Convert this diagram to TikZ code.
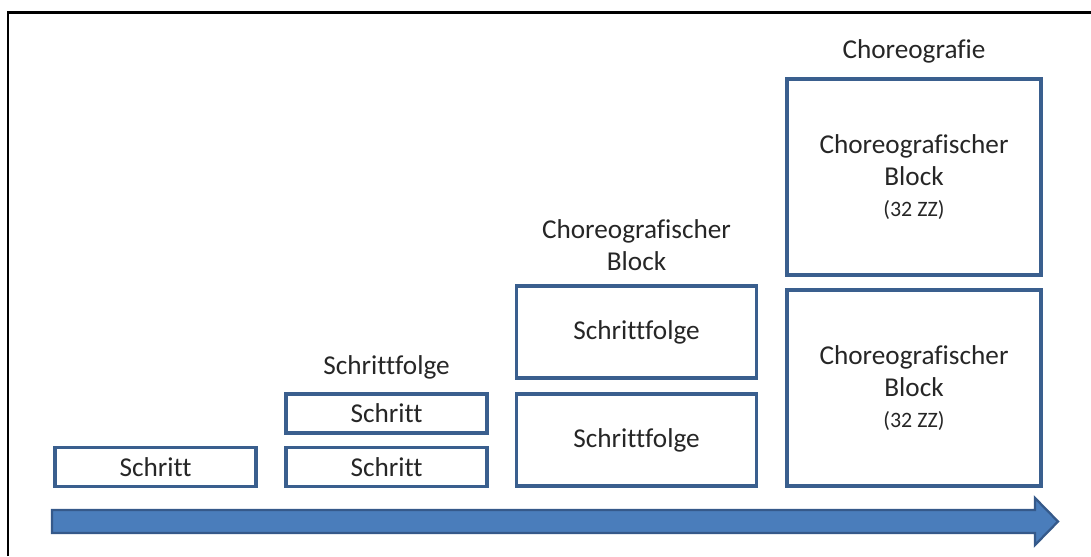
\documentclass[tikz,border=0pt]{standalone}
\usepackage{xcolor}
\usepackage{fontspec}
\setmainfont{Carlito}[Ligatures=NoCommon]
\usepackage{tikz}
\usetikzlibrary{positioning}
\definecolor{ink}{HTML}{262626}
\definecolor{frameblue}{HTML}{3A5F8E}
\definecolor{arrowblue}{HTML}{4A7DBB}
\definecolor{arrowedge}{HTML}{35598A}
\newcommand{\countfont}{\fontsize{12.5}{14}\selectfont}

\begin{document}
\begin{tikzpicture}[
  x=0.02cm, y=-0.02cm,
  every node/.style={font=\fontsize{15.5}{18.5}\selectfont, text=ink},
  stepbox/.style={rectangle, draw=frameblue, line width=2.2pt, fill=white, minimum width=4.02cm, minimum height=0.78cm, inner sep=0pt, align=center},
  seqbox/.style={stepbox, minimum width=4.8cm, minimum height=1.84cm},
  blockbox/.style={stepbox, minimum width=5.08cm, minimum height=3.92cm},
  caption/.style={align=center, inner sep=0pt},
  timeline/.style={fill=arrowblue, draw=arrowedge, line width=1.3pt, line join=miter}
]
\useasboundingbox (0,0) rectangle (1091,556);
\draw[line width=1.7pt] (8,556) -- (8,12) -- (1091,12);

% single step
\node[stepbox] (step) at (155.5,467) {Schritt};

% step sequence
\node[stepbox]                    (sfA) at (386.5,467) {Schritt};
\node[stepbox, above=0.22cm of sfA] (sfB) {Schritt};
\node[caption, above=0.24cm of sfB] (sfcap) {Schrittfolge};

% choreographic block
\node[seqbox]                       (cbA) at (636.5,440) {Schrittfolge};
\node[seqbox, above=0.24cm of cbA]  (cbB) {Schrittfolge};
\node[caption, above=0.26cm of cbB] (cbcap) {Choreografischer\\Block};

% choreography
\node[blockbox]                      (chA) at (914,388) {Choreografischer\\Block\\[-1pt]{\countfont (32 ZZ)}};
\node[blockbox, above=0.22cm of chA] (chB) {Choreografischer\\Block\\[-1pt]{\countfont (32 ZZ)}};
\node[caption, above=0.28cm of chB]  (chcap) {Choreografie};

% time arrow
\draw[timeline] (52,510) -- (1035,510) -- (1035,498) -- (1058,521.5)
    -- (1035,545) -- (1035,533) -- (52,533) -- cycle;
\end{tikzpicture}
\end{document}
